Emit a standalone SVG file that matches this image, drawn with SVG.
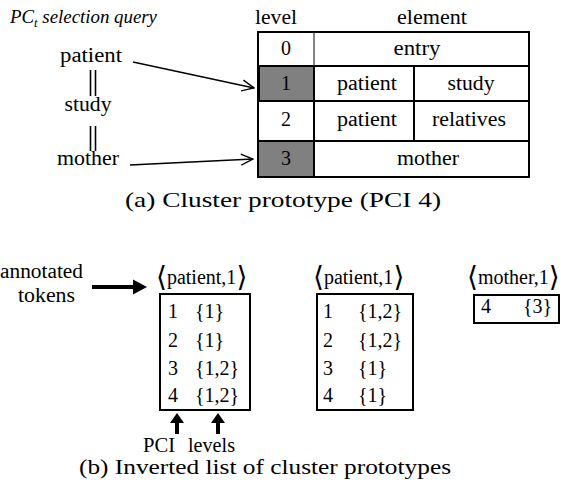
<svg xmlns="http://www.w3.org/2000/svg" width="561" height="490" viewBox="0 0 561 490">
<style>
  text { font-family: "Liberation Serif", "DejaVu Serif", serif; fill: #000; }
  .t20 { font-size: 20px; }
  .c { text-anchor: middle; }
  .cap { font-size: 22px; }
  .grid { stroke: #000; stroke-width: 2; fill: none; }
  .thin { stroke: #000; stroke-width: 1.4; fill: none; }
  .box { stroke: #000; stroke-width: 2; fill: #fff; }
  .br { font-family: "DejaVu Serif", serif; font-size: 28px; font-weight: normal; }
</style>
<defs>
  <marker id="open" markerUnits="userSpaceOnUse" markerWidth="14" markerHeight="14" viewBox="0 0 14 14" refX="13" refY="7" orient="auto">
    <path d="M1,1.5 L13,7 L1,12.5" fill="none" stroke="#000" stroke-width="1.4"/>
  </marker>
</defs>

<rect width="561" height="490" fill="#fff"/>

<!-- header / query -->
<g id="query-title">
  <text x="10" y="23" font-style="italic" font-size="18px" textLength="147" lengthAdjust="spacingAndGlyphs">PC<tspan font-size="12px" dy="4">t</tspan><tspan dy="-4"> selection query</tspan></text>
</g>
<g id="q-patient"><text class="t20 c" x="91" y="62" textLength="62" lengthAdjust="spacingAndGlyphs">patient</text></g>
<g id="q-study"><text class="t20 c" x="88" y="111" textLength="47" lengthAdjust="spacingAndGlyphs">study</text></g>
<g id="q-mother"><text class="t20 c" x="88" y="165" textLength="62" lengthAdjust="spacingAndGlyphs">mother</text></g>

<!-- table -->
<g id="table">
  <text class="t20 c" x="276" y="24" textLength="42" lengthAdjust="spacingAndGlyphs">level</text>
  <text class="t20 c" x="432" y="24" textLength="70" lengthAdjust="spacingAndGlyphs">element</text>
  <rect x="258" y="66" width="56" height="35" fill="#808080"/>
  <rect x="258" y="141" width="56" height="36" fill="#808080"/>
  <rect x="258" y="32" width="271" height="145" class="grid"/>
  <line x1="258" y1="66" x2="529" y2="66" class="grid"/>
  <line x1="258" y1="101" x2="529" y2="101" class="grid"/>
  <line x1="258" y1="141" x2="529" y2="141" class="grid"/>
  <line x1="314" y1="32" x2="314" y2="66" stroke="#333" stroke-width="1.2"/>
  <line x1="314" y1="66" x2="314" y2="177" class="grid"/>
  <line x1="414" y1="66" x2="414" y2="141" class="grid"/>
  <line x1="258.5" y1="66" x2="258.5" y2="101" stroke="#000" stroke-width="3"/>
  <text class="t20 c" x="286" y="55">0</text>
  <text class="t20 c" x="417" y="55" textLength="47" lengthAdjust="spacingAndGlyphs">entry</text>
  <text class="t20 c" x="286" y="90">1</text>
  <text class="t20 c" x="367" y="90" textLength="60" lengthAdjust="spacingAndGlyphs">patient</text>
  <text class="t20 c" x="471" y="90" textLength="47" lengthAdjust="spacingAndGlyphs">study</text>
  <text class="t20 c" x="286" y="126">2</text>
  <text class="t20 c" x="367" y="126" textLength="60" lengthAdjust="spacingAndGlyphs">patient</text>
  <text class="t20 c" x="469" y="126" textLength="74" lengthAdjust="spacingAndGlyphs">relatives</text>
  <text class="t20 c" x="286" y="165">3</text>
  <text class="t20 c" x="428" y="165" textLength="62" lengthAdjust="spacingAndGlyphs">mother</text>
</g>

<g id="caption-a">
  <text class="cap" x="125" y="207" textLength="316" lengthAdjust="spacingAndGlyphs">(a) Cluster prototype (PCI 4)</text>
</g>

<!-- part b -->
<g id="annotated-tokens">
  <text class="t20" x="0" y="278" textLength="83" lengthAdjust="spacingAndGlyphs">annotated</text>
  <text class="t20 c" x="46.5" y="302" textLength="57" lengthAdjust="spacingAndGlyphs">tokens</text>
</g>

<g id="list-patient-1">
  <text x="156" y="284" class="t20"><tspan class="br" dy="2">⟨</tspan><tspan dy="-2">patient,1</tspan><tspan class="br" dy="2">⟩</tspan></text>
  <rect x="160" y="294" width="90" height="116" class="box"/>
  <text class="t20" x="168" y="318">1</text><text class="t20" x="195" y="318">{1}</text>
  <text class="t20" x="168" y="347">2</text><text class="t20" x="195" y="347">{1}</text>
  <text class="t20" x="168" y="375">3</text><text class="t20" x="195" y="375">{1,2}</text>
  <text class="t20" x="168" y="402">4</text><text class="t20" x="195" y="402">{1,2}</text>
</g>

<g id="list-patient-2">
  <text x="313" y="284" class="t20"><tspan class="br" dy="2">⟨</tspan><tspan dy="-2">patient,1</tspan><tspan class="br" dy="2">⟩</tspan></text>
  <rect x="317" y="294" width="96" height="116" class="box"/>
  <text class="t20" x="323" y="318">1</text><text class="t20" x="358" y="318">{1,2}</text>
  <text class="t20" x="323" y="347">2</text><text class="t20" x="358" y="347">{1,2}</text>
  <text class="t20" x="323" y="375">3</text><text class="t20" x="358" y="375">{1}</text>
  <text class="t20" x="323" y="402">4</text><text class="t20" x="358" y="402">{1}</text>
</g>

<g id="list-mother">
  <text x="467" y="284" class="t20"><tspan class="br" dy="2">⟨</tspan><tspan dy="-2">mother,1</tspan><tspan class="br" dy="2">⟩</tspan></text>
  <rect x="474" y="295" width="85" height="28" class="box"/>
  <text class="t20" x="481" y="313">4</text><text class="t20" x="523" y="313">{3}</text>
</g>

<g id="labels-pci-levels">
  <text class="t20" x="143" y="452" textLength="32" lengthAdjust="spacingAndGlyphs">PCI</text>
  <text class="t20" x="188" y="452" textLength="47" lengthAdjust="spacingAndGlyphs">levels</text>
</g>

<g id="caption-b">
  <text class="cap" x="79" y="474" textLength="372" lengthAdjust="spacingAndGlyphs">(b) Inverted list of cluster prototypes</text>
</g>

<!-- connectors -->
<g id="connectors">
  <line x1="90.5" y1="70" x2="90.5" y2="96" stroke="#000" stroke-width="1.6"/>
  <line x1="95.5" y1="70" x2="95.5" y2="96" stroke="#000" stroke-width="1.6"/>
  <line x1="90.5" y1="126" x2="90.5" y2="151" stroke="#000" stroke-width="1.6"/>
  <line x1="95.5" y1="126" x2="95.5" y2="151" stroke="#000" stroke-width="1.6"/>
  <line x1="133" y1="62" x2="254" y2="88" class="thin" marker-end="url(#open)"/>
  <line x1="130" y1="165" x2="253" y2="159" class="thin" marker-end="url(#open)"/>
  <line x1="92" y1="287" x2="135" y2="287" stroke="#000" stroke-width="4"/>
  <polygon points="133,279.5 147,287 133,294.5" fill="#000"/>
  <line x1="177" y1="421" x2="177" y2="434" stroke="#000" stroke-width="4"/>
  <polygon points="170,423 177,413 184,423" fill="#000"/>
  <line x1="218" y1="421" x2="218" y2="434" stroke="#000" stroke-width="4"/>
  <polygon points="211,423 218,413 225,423" fill="#000"/>
</g>
</svg>
